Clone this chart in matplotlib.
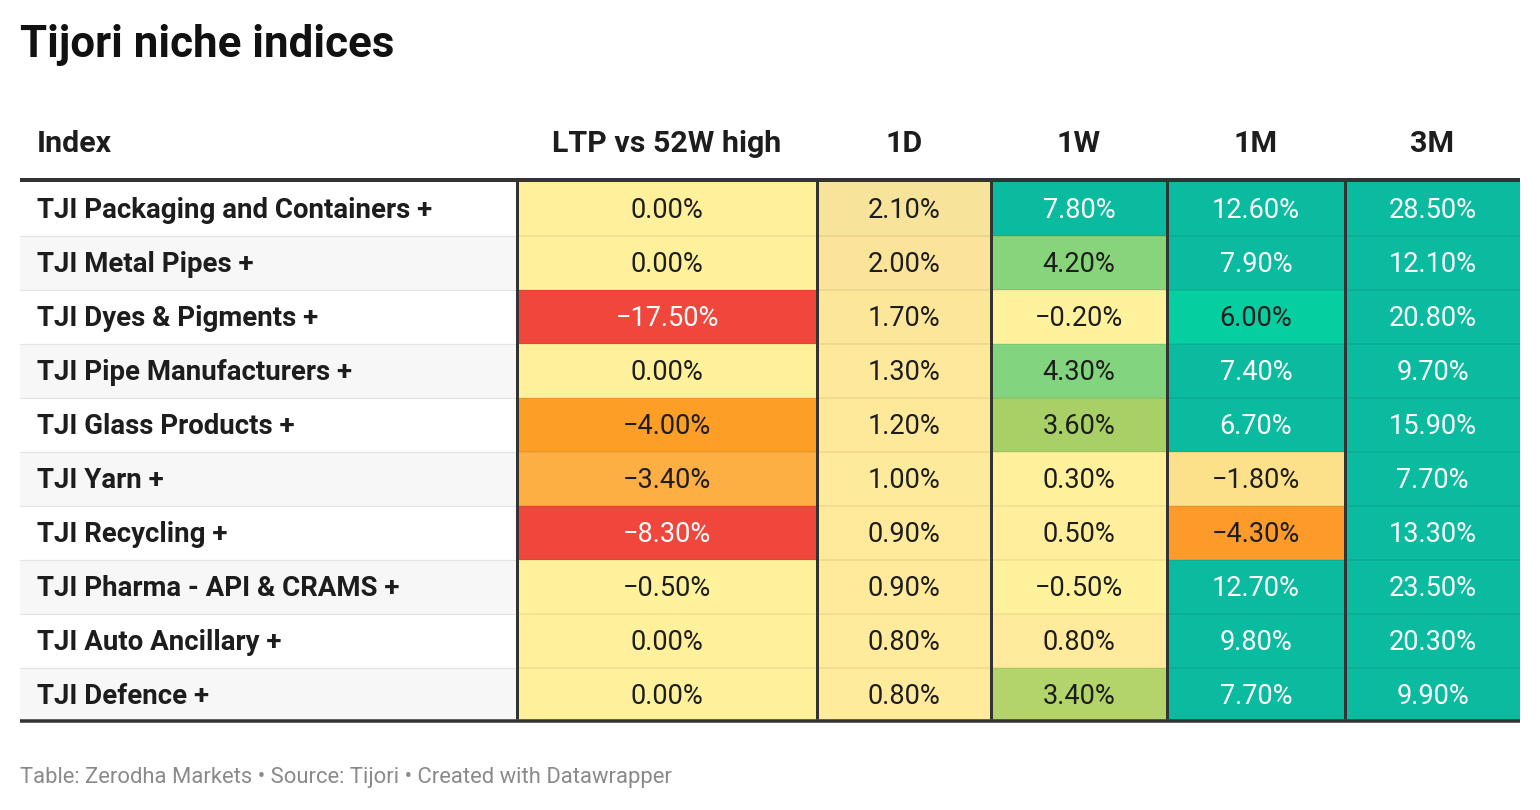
import matplotlib
matplotlib.use('Agg')
import matplotlib.pyplot as plt
import numpy as np
from matplotlib.colors import LinearSegmentedColormap, Normalize

# ---------------- data ----------------
title = "Tijori niche indices"
columns = ["Index", "LTP vs 52W high", "1D", "1W", "1M", "3M"]
indices = [
    "TJI Packaging and Containers +",
    "TJI Metal Pipes +",
    "TJI Dyes & Pigments +",
    "TJI Pipe Manufacturers +",
    "TJI Glass Products +",
    "TJI Yarn +",
    "TJI Recycling +",
    "TJI Pharma - API & CRAMS +",
    "TJI Auto Ancillary +",
    "TJI Defence +",
]
ltp_vs_52w = [0.0, 0.0, -17.5, 0.0, -4.0, -3.4, -8.3, -0.5, 0.0, 0.0]
ret_1d = [2.1, 2.0, 1.7, 1.3, 1.2, 1.0, 0.9, 0.9, 0.8, 0.8]
ret_1w = [7.8, 4.2, -0.2, 4.3, 3.6, 0.3, 0.5, -0.5, 0.8, 3.4]
ret_1m = [12.6, 7.9, 6.0, 7.4, 6.7, -1.8, -4.3, 12.7, 9.8, 7.7]
ret_3m = [28.5, 12.1, 20.8, 9.7, 15.9, 7.7, 13.3, 23.5, 20.3, 9.9]
footer = "Table: Zerodha Markets \u2022 Source: Tijori \u2022 Created with Datawrapper"

# colour scale anchors (value, colour)
scale_values = [-8.0, -4.3, -4.0, -3.4, -1.8, -0.5, 0.3, 0.8, 2.0, 2.1, 3.4, 3.6, 4.25, 6.0, 6.7, 30.0]
scale_colors = ['#f0473c', '#fc9a2a', '#fd9e26', '#fdaf44', '#fde08a', '#fff29c', '#fff19c',
                '#ffeb9b', '#fbe49a', '#f8e39a', '#b3d46a', '#a8d066', '#86d47d', '#05cfa1',
                '#0bbb9f', '#0bbb9f']

# ---------------- layout ----------------
W, H = 1540, 810
fig = plt.figure(figsize=(W / 100, H / 100), dpi=100)
ax = fig.add_axes([0, 0, 1, 1])
ax.set_xlim(0, W)
ax.set_ylim(H, 0)
ax.axis('off')

FONT = 'Roboto'
px = 0.72  # points per pixel at dpi 100

left, right = 20, 1520
col_edges = [517, 817, 991, 1167, 1345, 1520]
row_top = 182
row_h = 54
n = len(indices)
row_edges = [row_top + row_h * i for i in range(n + 1)]

data = np.array([ltp_vs_52w, ret_1d, ret_1w, ret_1m, ret_3m]).T  # rows x cols

vmin, vmax = scale_values[0], scale_values[-1]
cmap = LinearSegmentedColormap.from_list(
    'dw', [((v - vmin) / (vmax - vmin), c) for v, c in zip(scale_values, scale_colors)], N=4096)
norm = Normalize(vmin=vmin, vmax=vmax, clip=True)

# index column backgrounds (alternating)
for i in range(n):
    ax.add_patch(plt.Rectangle((left, row_edges[i]), col_edges[0] - left, row_h,
                               facecolor='#ffffff' if i % 2 == 0 else '#f7f7f7',
                               edgecolor='none', zorder=0))

# coloured cells
ax.pcolormesh(col_edges, row_edges, data, cmap=cmap, norm=norm, shading='flat', zorder=1)

# row separators
for y in row_edges[1:-1]:
    ax.hlines(y, left, col_edges[0], color='#e3e3e3', lw=1.2 * px, zorder=2)
    ax.hlines(y, col_edges[0], right, color='black', alpha=0.07, lw=1.5 * px, zorder=2)

# thick lines
ax.hlines(180, left, right, color='#333333', lw=4 * px, zorder=4)
ax.hlines(720.5, left, right, color='#333333', lw=3.5 * px, zorder=4)
ax.vlines(col_edges[:-1], 181, 719, color='#333333', lw=3 * px, zorder=3)

# title
ax.text(20, 45, title, fontsize=31.6, fontweight='bold', family=FONT, color='#111111',
        ha='left', va='center')

# header
ax.text(37, 144, columns[0], fontsize=21.9, fontweight='bold', family=FONT, color='#1d1d1d',
        ha='left', va='center')
for j, name in enumerate(columns[1:]):
    cx = (col_edges[j] + col_edges[j + 1]) / 2
    ax.text(cx, 144, name, fontsize=21.9, fontweight='bold', family=FONT, color='#1d1d1d',
            ha='center', va='center')

# rows
for i, label in enumerate(indices):
    cy = row_edges[i] + row_h / 2
    ax.text(37, cy + 2, label, fontsize=19.9, fontweight='bold', family=FONT, color='#1d1d1d',
            ha='left', va='center')
    for j in range(data.shape[1]):
        v = data[i, j]
        cx = (col_edges[j] + col_edges[j + 1]) / 2
        txt = f"{v:.2f}%".replace('-', '\u2212')
        tc = '#ffffff' if (v >= 6.5 or v <= -6) else '#1d1d1d'
        ax.text(cx, cy + 1, txt, fontsize=19.5, family=FONT, color=tc,
                ha='center', va='center')

# footer
ax.text(20, 777, footer, fontsize=15.8, family=FONT, color='#8a8a8a', ha='left', va='center')

fig.savefig('out.png', dpi=100, facecolor='white')
